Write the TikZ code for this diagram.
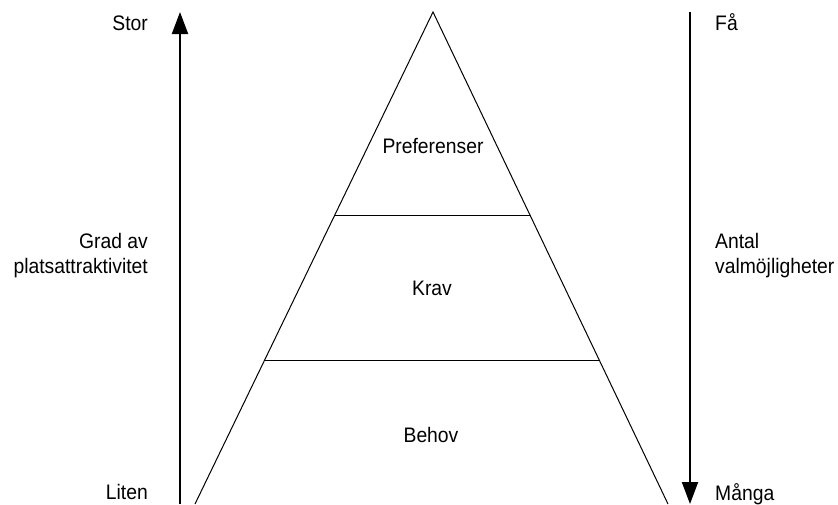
\documentclass[tikz,border=0pt]{standalone}
\usepackage{fontspec}
\setmainfont[FakeStretch=0.92]{Liberation Sans}
\usepackage{tikz}
\usetikzlibrary{arrows.meta}

\tikzset{
  lbl/.style={font=\fontsize{21}{25}\selectfont, inner sep=0pt},
  scalearrow/.style={line width=2pt, -{Triangle[width=16pt,length=22pt]}}
}

\begin{document}
\begin{tikzpicture}[x=1pt,y=-1pt]
\useasboundingbox (0,0) rectangle (838,504);
% pyramid
\coordinate (top) at (433,12);
\coordinate (bl) at (195,504);
\coordinate (br) at (668,504);
\draw[line width=1pt] (bl) -- (top) -- (br);
\draw[line width=1pt] (334.8,215) -- (530,215);
\draw[line width=1pt] (265,360) -- (599,360);
\node[lbl,anchor=base] (pref) at (433,153) {Preferenser};
\node[lbl,anchor=base] (krav) at (432,295) {Krav};
\node[lbl,anchor=base] (behov) at (431,442) {Behov};
% left scale
\coordinate (lfoot) at (180,504);
\coordinate (lhead) at (180,12);
\draw[scalearrow] (lfoot) -- (lhead);
\node[lbl,anchor=base east] (stor) at (148,30) {Stor};
\node[lbl,anchor=base east,align=right] (grad) at (148,273) {Grad av\\platsattraktivitet};
\node[lbl,anchor=base east] (liten) at (148,499) {Liten};
% right scale
\coordinate (rhead) at (690,12);
\coordinate (rfoot) at (690,504);
\draw[scalearrow] (rhead) -- (rfoot);
\node[lbl,anchor=base west] (fa) at (715,30) {Få};
\node[lbl,anchor=base west,align=left] (antal) at (715,273) {Antal\\valmöjligheter};
\node[lbl,anchor=base west] (manga) at (715,500) {Många};
\end{tikzpicture}
\end{document}
